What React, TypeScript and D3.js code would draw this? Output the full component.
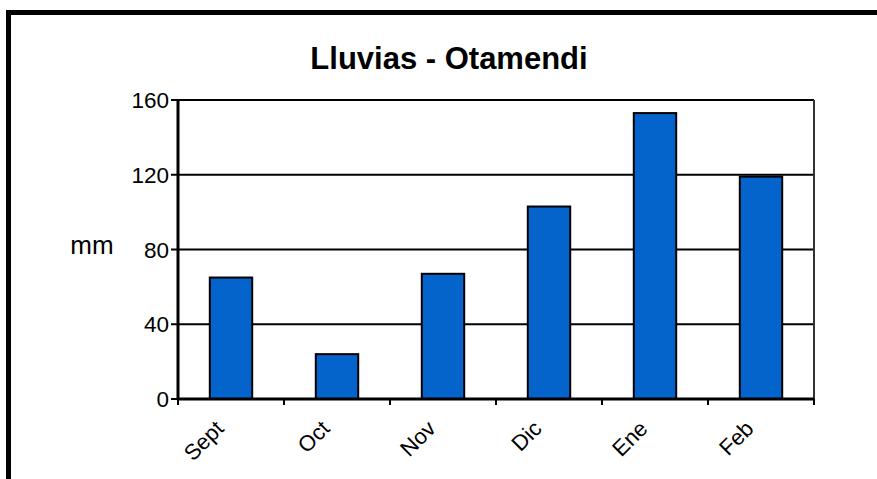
import * as d3 from 'd3'

const months = ['Sept', 'Oct', 'Nov', 'Dic', 'Ene', 'Feb']
const rainfall = [65, 24, 67, 103, 153, 119]
const yTicks = [0, 40, 80, 120, 160]

const width = 877,
      height = 479,
      plot = { left: 178, top: 100, right: 814, bottom: 399 }

export default function App() {
  const x = d3.scaleBand()
    .domain(months)
    .range([plot.left, plot.right])
    .paddingInner(0.6)
    .paddingOuter(0.3)

  const y = d3.scaleLinear()
    .domain([0, 160])
    .range([plot.bottom, plot.top])

  // category boundaries for the x ticks
  const bounds = d3.range(months.length + 1).map(i => plot.left + i * (plot.right - plot.left) / months.length)

  return (
    <svg width={width} height={height} style={{ position: 'absolute', left: 0, top: 0, background: '#fff' }}
      fontFamily='Arial, Liberation Sans, sans-serif'>
      {/* outer frame, runs off the picture at right and bottom */}
      <rect x={8.5} y={12.5} width={width + 20} height={height + 20} fill='none' stroke='#000' strokeWidth={5} />

      <text x={449} y={69} textAnchor='middle' fontWeight='bold' fontSize={31}>Lluvias - Otamendi</text>
      <text x={92} y={254} textAnchor='middle' fontSize={26}>mm</text>

      {/* grid */}
      {yTicks.filter(t => t > 0).map(t => (
        <line key={t} x1={plot.left} x2={plot.right} y1={y(t)} y2={y(t)} stroke='#000' strokeWidth={2} />
      ))}
      <line x1={plot.right} x2={plot.right} y1={plot.top} y2={plot.bottom + 5} stroke='#333' strokeWidth={2} />

      {rainfall.map((v, i) => (
        <rect key={months[i]} x={x(months[i])} y={y(v)} width={x.bandwidth()} height={y(0) - y(v)}
          fill='#0563cc' stroke='#000' strokeWidth={2} />
      ))}

      {/* axes */}
      <line x1={plot.left} x2={plot.left} y1={plot.top - 1} y2={plot.bottom + 1} stroke='#000' strokeWidth={3} />
      <line x1={plot.left} x2={plot.right} y1={plot.bottom} y2={plot.bottom} stroke='#000' strokeWidth={3} />
      {yTicks.map(t => (
        <g key={t}>
          <line x1={plot.left - 7} x2={plot.left} y1={y(t)} y2={y(t)} stroke='#000' strokeWidth={2} />
          <text x={plot.left - 9} y={y(t)} dy='0.36em' textAnchor='end' fontSize={22.5}>{t}</text>
        </g>
      ))}
      {bounds.map((b, i) => (
        <line key={i} x1={b} x2={b} y1={plot.bottom} y2={plot.bottom + 6} stroke='#000' strokeWidth={2} />
      ))}
      {months.map(m => {
        const cx = (x(m) ?? 0) + x.bandwidth() / 2
        return (
          <text key={m} transform={`translate(${cx - 6}, ${plot.bottom + 31}) rotate(-45)`}
            textAnchor='end' fontSize={22}>{m}</text>
        )
      })}
    </svg>
  )
}
